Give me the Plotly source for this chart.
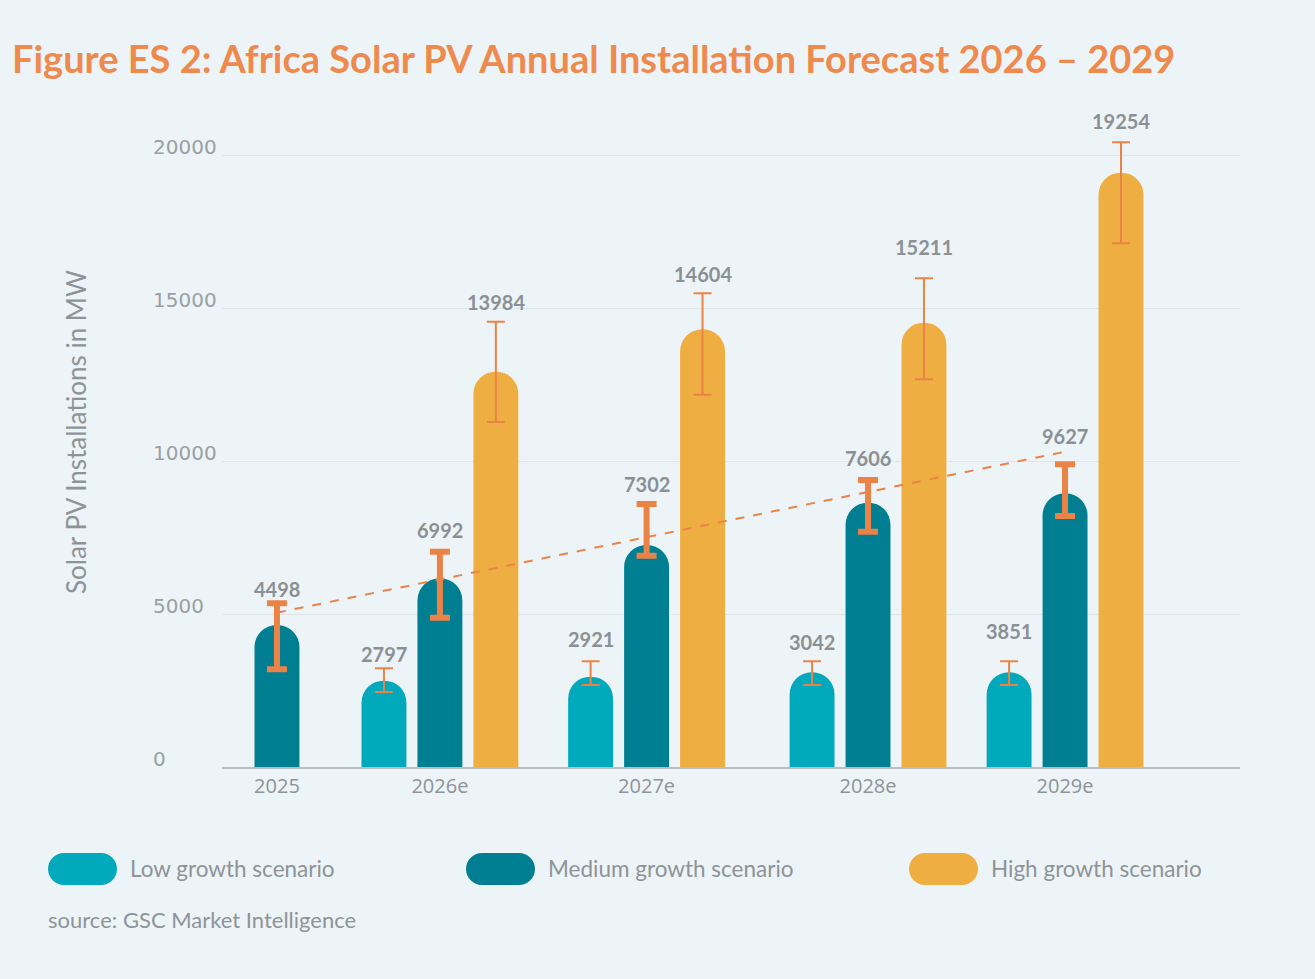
import plotly.graph_objects as go

# ---------------- data ----------------
years = ["2025", "2026e", "2027e", "2028e", "2029e"]

low_values = [None, 2821, 2952, 3094, 3094]
medium_values = [4641, 6166, 7255, 8638, 8944]
high_values = [None, 12919, 14304, 14520, 19422]

low_err_upper = [None, 3225, 3454, 3454, 3454]
low_err_lower = [None, 2451, 2680, 2680, 2680]
medium_err_upper = [5348, 7037, 8595, 9379, 9892]
medium_err_lower = [3192, 4880, 6906, 7690, 8203]
high_err_upper = [None, 14553, 15481, 15971, 20415]
high_err_lower = [None, 11275, 12167, 12670, 17114]

low_labels = [None, 2797, 2921, 3042, 3851]
medium_labels = [4498, 6992, 7302, 7606, 9627]
high_labels = [None, 13984, 14604, 15211, 19254]

trend_years = ["2025", "2029e"]
trend_values = [5043, 10304]

y_ticks = [0, 5000, 10000, 15000, 20000]

series_names = ["Low growth scenario", "Medium growth scenario", "High growth scenario"]

# ---------------- layout / style constants ----------------
group_pos = [0.0, 0.827, 1.876, 3.0, 4.0]      # category slot centres on the x axis
slot_of = dict(zip(years, group_pos))
bar_w = 0.228
bar_shift = 0.284
colors = ["#00A9BC", "#007F92", "#EFAE41"]
orange = "#EB8347"
title_orange = "#EE8A4E"
gray_label = "#8B9095"
gray_text = "#8E9398"
bg = "#EDF4F7"

W, H = 1315, 979
L, R, T, B = 222, 75, 110, 212
plot_w = W - L - R
plot_h = H - T - B
x_range = [-0.279, 4.888]
y_max = 21471

label_gap_px = [
    [0, 14, 22, 19, 30],
    [14, 22, 20, 22, 28],
    [0, 20, 19, 31, 21],
]


def px_to_paper_x(px):
    return (px - L) / plot_w


def px_to_paper_y(py):
    return (H - B - py) / plot_h


fig = go.Figure()

values = [low_values, medium_values, high_values]
err_up = [low_err_upper, medium_err_upper, high_err_upper]
err_lo = [low_err_lower, medium_err_lower, high_err_lower]
labels = [low_labels, medium_labels, high_labels]
shifts = [-bar_shift, 0.0, bar_shift]
err_thick = [2, 6, 2]
err_cap = [9, 10, 9]

for i in range(3):
    fig.add_trace(go.Bar(
        x=group_pos, y=values[i], name=series_names[i],
        width=bar_w, offset=shifts[i] - bar_w / 2,
        marker=dict(color=colors[i], cornerradius="50%", line=dict(width=0)),
        showlegend=False, hoverinfo="skip",
    ))

# trend line (behind error bars)
fig.add_trace(go.Scatter(
    x=[slot_of[y] for y in trend_years], y=trend_values, mode="lines",
    line=dict(color=orange, width=2, dash="dash"),
    showlegend=False, hoverinfo="skip",
))

for i in range(3):
    xs, ys, up, dn = [], [], [], []
    for j, v in enumerate(values[i]):
        if v is None:
            continue
        xs.append(group_pos[j] + shifts[i])
        ys.append(v)
        up.append(err_up[i][j] - v)
        dn.append(v - err_lo[i][j])
    fig.add_trace(go.Scatter(
        x=xs, y=ys, mode="markers", marker=dict(size=1, opacity=0),
        error_y=dict(type="data", symmetric=False, array=up, arrayminus=dn,
                     color=orange, thickness=err_thick[i], width=err_cap[i]),
        showlegend=False, hoverinfo="skip",
    ))

annotations = []
# value labels
for i in range(3):
    for j, lab in enumerate(labels[i]):
        if lab is None:
            continue
        annotations.append(dict(
            x=group_pos[j] + shifts[i], y=err_up[i][j], xref="x", yref="y",
            text=f"<b>{lab}</b>", showarrow=False, yanchor="middle",
            yshift=label_gap_px[i][j],
            font=dict(family="Lato", size=20, color=gray_label),
        ))

# y tick labels
for t in y_ticks:
    annotations.append(dict(
        x=0, y=t, xref="paper", yref="y", xshift=-71, yshift=8,
        xanchor="left", yanchor="middle", text=str(t), showarrow=False,
        font=dict(family="DejaVu Sans", size=20, color="#9A9FA3"),
    ))

# y axis title
annotations.append(dict(
    x=px_to_paper_x(76), y=px_to_paper_y(432), xref="paper", yref="paper",
    text="Solar PV Installations in MW", textangle=-90, showarrow=False,
    xanchor="center", yanchor="middle",
    font=dict(family="Lato", size=26, color=gray_text),
))

# legend (custom pills)
legend_px = [48, 466, 909]
pill_w, pill_h = 69, 32
legend_y = 869
shapes = []
for i in range(3):
    cx = legend_px[i] + pill_w / 2
    hw = pill_w / 2 - pill_h / 2
    r = pill_h / 2
    k = 0.5523 * r
    path = (f"M {-hw},{-r} L {hw},{-r} "
            f"C {hw + k},{-r} {hw + r},{-k} {hw + r},0 "
            f"C {hw + r},{k} {hw + k},{r} {hw},{r} "
            f"L {-hw},{r} "
            f"C {-hw - k},{r} {-hw - r},{k} {-hw - r},0 "
            f"C {-hw - r},{-k} {-hw - k},{-r} {-hw},{-r} Z")
    shapes.append(dict(
        type="path", path=path, xref="paper", yref="paper",
        xsizemode="pixel", ysizemode="pixel",
        xanchor=px_to_paper_x(cx), yanchor=px_to_paper_y(legend_y),
        fillcolor=colors[i], line=dict(width=0),
    ))
    annotations.append(dict(
        x=px_to_paper_x(legend_px[i] + pill_w + 11), y=px_to_paper_y(legend_y),
        xref="paper", yref="paper", xanchor="left", yanchor="middle",
        text=series_names[i], showarrow=False,
        font=dict(family="Lato", size=22.5, color=gray_text),
    ))

# source
annotations.append(dict(
    x=px_to_paper_x(46), y=px_to_paper_y(919), xref="paper", yref="paper",
    xanchor="left", yanchor="middle", text="source: GSC Market Intelligence",
    showarrow=False, font=dict(family="Lato", size=22, color=gray_text),
))

fig.update_layout(
    width=W, height=H,
    margin=dict(l=L, r=R, t=T, b=B),
    paper_bgcolor=bg, plot_bgcolor=bg,
    barmode="overlay",
    title=dict(
        text="<b>Figure ES 2: Africa Solar PV Annual Installation Forecast 2026 – 2029</b>",
        x=12 / W, xanchor="left", xref="container",
        y=1 - 60 / H, yanchor="middle", yref="container",
        font=dict(family="Lato", size=38, color=title_orange),
    ),
    xaxis=dict(
        range=x_range, tickmode="array", tickvals=group_pos, ticktext=years,
        showgrid=False, zeroline=False, showline=True, linecolor="#B8BDC1",
        linewidth=2, ticks="", tickfont=dict(family="Open Sans", size=20, color=gray_text),
        fixedrange=True,
    ),
    yaxis=dict(
        range=[0, y_max], tickmode="array", tickvals=y_ticks, showticklabels=False,
        showgrid=True, gridcolor="#DFE6EA", gridwidth=1, zeroline=False,
        fixedrange=True,
    ),
    annotations=annotations,
    shapes=shapes,
    showlegend=False,
)

fig.write_html("out.html")
